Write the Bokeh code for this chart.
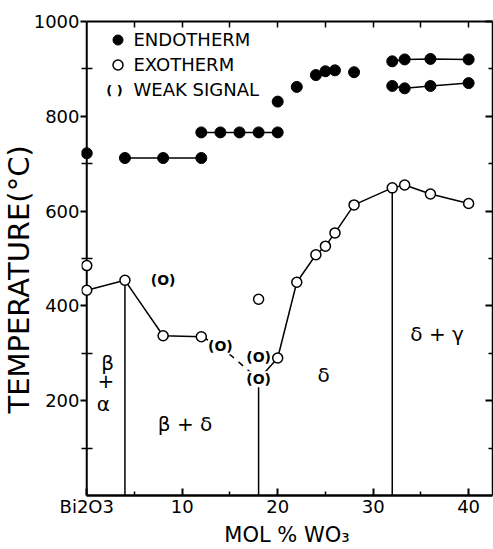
from bokeh.plotting import figure
from bokeh.models import (Range1d, FixedTicker, LinearAxis, Title, Legend, LegendItem,
                          Label, ColumnDataSource, Span)
from bokeh.core.properties import value
from bokeh.embed import file_html
from bokeh.resources import INLINE

FONT = "DejaVu Sans"

# ---------------- data ----------------
# Endotherm (filled circles)
endo_a_x = [4, 8, 12]
endo_a_y = [712, 712, 712]
endo_b_x = [12, 14, 16, 18, 20]
endo_b_y = [766, 766, 766, 766, 766]
endo_c_x = [32, 33.3, 36, 40]
endo_c_y = [916, 920, 921, 920]
endo_d_x = [32, 33.3, 36, 40]
endo_d_y = [864, 859, 864, 870]
endo_e_x = [0, 20, 22, 24, 25, 26, 28]
endo_e_y = [722, 831, 862, 887, 895, 897, 893]

# Exotherm main curve (open circles); points 4 and 5 are weak signals
exo_x = [0, 4, 8, 12, 14, 18, 20, 22, 24, 25, 26, 28, 32, 33.3, 36, 40]
exo_y = [433, 454, 337, 335, 315, 245, 290, 450, 508, 526, 554, 613, 649, 655, 636, 616]
exo_weak_idx = [4, 5]
# Extra isolated exotherm points
exo_extra_x = [0, 18]
exo_extra_y = [485, 414]
# Isolated weak signals
weak_extra_x = [8, 18]
weak_extra_y = [454, 292]

# Phase boundaries (vertical lines)
bound_x = [4, 18, 32]
bound_top = [454, 245, 649]

# Phase field labels
phase_text = ["β", "+", "α", "β + δ", "δ", "δ + γ"]
phase_x = [2.2, 2.0, 1.75, 10.3, 24.8, 36.7]
phase_y = [280, 242, 193, 150, 255, 341]

# Axis ticks
x_major = [0, 10, 20, 30, 40]
x_minor = [5, 15, 25, 35]
x_top = [5, 10, 15, 20, 25, 30, 35, 40]
y_major = [200, 400, 600, 800, 1000]
y_minor = [100, 300, 500, 700, 900]

X_START = -0.55   # small margin so markers sitting on x = 0 are not clipped
X_END = 42.5

# ---------------- figure ----------------
p = figure(width=493, height=549, x_range=Range1d(X_START, X_END), y_range=Range1d(0, 1000),
           output_backend="svg", toolbar_location=None,
           min_border_left=81, min_border_right=1, min_border_top=21, min_border_bottom=50)
p.grid.visible = False
p.outline_line_color = None
p.background_fill_color = "white"

# bottom axis
xa = p.below[0]
xa.ticker = FixedTicker(ticks=x_major, minor_ticks=x_minor)
xa.bounds = (0, X_END)
xa.major_label_overrides = {0: "Bi2O3"}
xa.major_tick_in = 7
xa.major_tick_out = 0
xa.minor_tick_in = 4
xa.minor_tick_out = 0
xa.axis_line_width = 2.5
xa.major_tick_line_width = 2
xa.minor_tick_line_width = 1.5
xa.major_label_standoff = 0
xa.major_label_text_font = FONT
xa.major_label_text_font_size = "18px"
xa.major_label_text_color = "black"
xa.axis_label = "MOL % WO₃"
xa.axis_label_text_font = FONT
xa.axis_label_text_font_size = "21px"
xa.axis_label_text_font_style = "normal"
xa.axis_label_text_color = "black"
xa.axis_label_standoff = 3

# left axis: ticks and labels; its line is drawn at x = 0 by a span
ya = p.left[0]
ya.ticker = FixedTicker(ticks=y_major, minor_ticks=y_minor)
ya.axis_line_color = None
ya.major_tick_out = 1
ya.major_tick_in = 5
ya.minor_tick_in = 11
ya.minor_tick_out = 0
ya.major_tick_line_width = 2
ya.minor_tick_line_width = 1.5
ya.major_label_standoff = 1
ya.major_label_text_font = FONT
ya.major_label_text_font_size = "18px"
ya.major_label_text_color = "black"
p.add_layout(Span(location=0, dimension="height", line_color="black", line_width=2,
                  level="underlay"))

# top axis (ticks only)
ta = LinearAxis(ticker=FixedTicker(ticks=x_top), bounds=(0, X_END), major_tick_in=6,
                major_tick_out=0, minor_tick_in=0, minor_tick_out=0,
                major_label_text_font_size="0px", major_label_standoff=0,
                axis_line_width=2, major_tick_line_width=1.5)
p.add_layout(ta, "above")

# right axis (ticks only)
ra = LinearAxis(ticker=FixedTicker(ticks=y_major, minor_ticks=y_minor), major_tick_in=7,
                major_tick_out=0, minor_tick_in=4, minor_tick_out=0,
                major_label_text_font_size="0px", major_label_standoff=0,
                axis_line_width=1.5, major_tick_line_width=2, minor_tick_line_width=1.5)
p.add_layout(ra, "right")

# y label as a left title
yt = Title(text="TEMPERATURE(°C)", align="left", offset=82, standoff=-11,
           text_font=FONT, text_font_size="29px", text_font_style="normal", text_color="black")
p.add_layout(yt, "left")

# ---------------- glyphs ----------------
LW = 1.5
p.segment(x0=bound_x, y0=[0] * len(bound_x), x1=bound_x, y1=bound_top,
          line_color="black", line_width=LW)

n_w0, n_w1 = exo_weak_idx
p.line(exo_x[:n_w0 + 1], exo_y[:n_w0 + 1], line_color="black", line_width=LW)
p.line(exo_x[n_w0:n_w1 + 1], exo_y[n_w0:n_w1 + 1], line_color="black", line_width=LW,
       line_dash="6 6")
p.line(exo_x[n_w1:], exo_y[n_w1:], line_color="black", line_width=LW)

for xs, ys in [(endo_a_x, endo_a_y), (endo_b_x, endo_b_y), (endo_c_x, endo_c_y),
               (endo_d_x, endo_d_y)]:
    p.line(xs, ys, line_color="black", line_width=LW)

endo_all_x = endo_a_x + endo_b_x + endo_c_x + endo_d_x + endo_e_x
endo_all_y = endo_a_y + endo_b_y + endo_c_y + endo_d_y + endo_e_y
endo_r = p.scatter(endo_all_x, endo_all_y, marker="circle", size=11,
                   fill_color="black", line_color="black")

open_x = [x for i, x in enumerate(exo_x) if i not in exo_weak_idx] + exo_extra_x
open_y = [y for i, y in enumerate(exo_y) if i not in exo_weak_idx] + exo_extra_y
exo_r = p.scatter(open_x, open_y, marker="circle", size=10, fill_color="white",
                  line_color="black", line_width=LW)

weak_x = [exo_x[i] for i in exo_weak_idx] + weak_extra_x
weak_y = [exo_y[i] for i in exo_weak_idx] + weak_extra_y
weak_src = ColumnDataSource(dict(x=weak_x, y=weak_y, t=["(O)"] * len(weak_x)))
weak_r = p.text(x="x", y="y", text="t", source=weak_src, text_align="center",
                text_baseline="middle", text_font=value(FONT), text_font_size="14px",
                text_font_style="bold", text_color="black", background_fill_color="white")

phase_src = ColumnDataSource(dict(x=phase_x, y=phase_y, t=phase_text))
p.text(x="x", y="y", text="t", source=phase_src, text_align="center",
       text_baseline="middle", text_font=value(FONT), text_font_size="20px",
       text_color="black")

# ---------------- legend ----------------
legend = Legend(items=[LegendItem(label="ENDOTHERM", renderers=[endo_r]),
                       LegendItem(label="EXOTHERM", renderers=[exo_r]),
                       LegendItem(label="WEAK SIGNAL", renderers=[weak_r])],
                location=(23.5, 392.8), margin=0, padding=0, spacing=0,
                glyph_width=25, glyph_height=25, label_standoff=4,
                label_height=25, label_text_baseline="middle",
                label_text_font=FONT, label_text_font_size="18px",
                label_text_color="black",
                background_fill_alpha=0, border_line_alpha=0)
p.add_layout(legend)
p.add_layout(Label(x=33, y=405.3, x_units="screen", y_units="screen", text="( )",
                   text_align="center", text_baseline="middle", text_font=FONT,
                   text_font_size="13px", text_font_style="bold", text_color="black"))

open("out.html", "w").write(file_html(p, INLINE))
